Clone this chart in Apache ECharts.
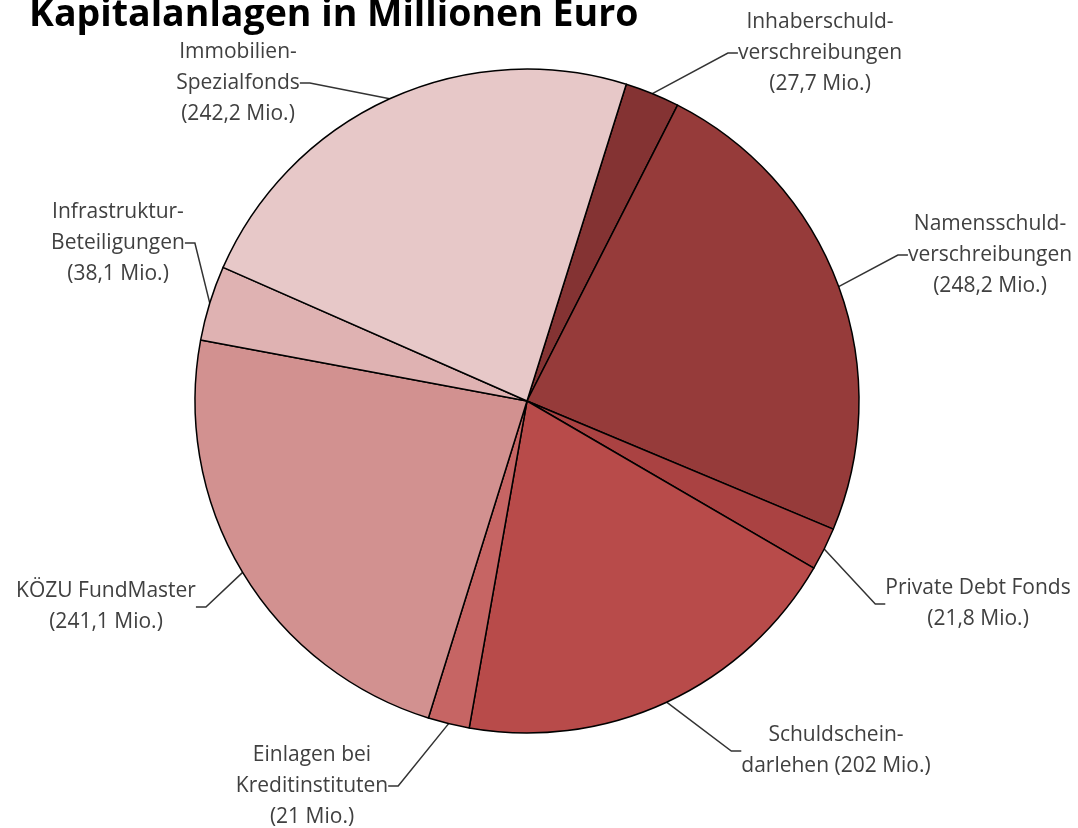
<!DOCTYPE html>
<html>
<head>
<meta charset="utf-8">
<script src="https://cdn.jsdelivr.net/npm/echarts@6/dist/echarts.min.js"></script>
<style>
    html, body { margin: 0; padding: 0; background: #fff; }
    #kapitalChart { width: 1078px; height: 828px; }
</style>
</head>
<body>
<div id="kapitalChart"></div>
<script>
// Daten (Mio. Euro), im Uhrzeigersinn ab Inhaberschuldverschreibungen
var categories = [
    'Inhaberschuld-\nverschreibungen',
    'Namensschuld-\nverschreibungen',
    'Private Debt Fonds',
    'Schuldschein-\ndarlehen',
    'Einlagen bei\nKreditinstituten',
    'KÖZU FundMaster',
    'Infrastruktur-\nBeteiligungen',
    'Immobilien-\nSpezialfonds'
];
var values = [27.7, 248.2, 21.8, 202, 21, 241.1, 38.1, 242.2];
var colors = ['#843333', '#963b3a', '#aa4242', '#b84b4a', '#c66564', '#d29190', '#dfb2b2', '#e7c8c8'];
// Trenner zwischen Name und Wert
var joiners = ['\n', '\n', '\n', ' ', '\n', '\n', '\n', '\n'];
// Label-Mittelpunkte (Pixel)
var labelPos = [
    [820, 53], [990, 255], [978, 604], [836, 751],
    [312, 786], [106, 607], [118, 243], [238, 83]
];

var myChart = echarts.init(document.getElementById('kapitalChart'));

var seriesData = categories.map(function (name, i) {
    return { name: name, value: values[i], itemStyle: { color: colors[i] } };
});

var options = {
    backgroundColor: '#fff',
    title: {
        text: 'Kapitalanlagen in Millionen Euro',
        left: 24,
        top: -9,
        textStyle: {
            fontFamily: 'Open Sans',
            fontWeight: 'bold',
            fontSize: 37.5,
            color: '#000'
        }
    },
    series: [
        {
            type: 'pie',
            center: [527, 401],
            radius: 332,
            startAngle: 72.6,
            clockwise: true,
            avoidLabelOverlap: false,
            data: seriesData,
            itemStyle: {
                borderColor: '#000',
                borderWidth: 1.5
            },
            label: {
                show: true,
                position: 'outside',
                fontFamily: 'Open Sans',
                fontSize: 21,
                lineHeight: 31,
                color: '#404040',
                align: 'center',
                formatter: function (p) {
                    var v = String(p.value).replace('.', ',');
                    return p.name + joiners[p.dataIndex] + '(' + v + ' Mio.)';
                }
            },
            labelLine: {
                show: true,
                length: 12,
                length2: 10,
                lineStyle: { color: '#333', width: 1.5 }
            },
            labelLayout: function (params) {
                var pos = labelPos[params.dataIndex];
                return {
                    x: pos[0],
                    y: pos[1],
                    align: 'center',
                    verticalAlign: 'middle'
                };
            },
            emphasis: { disabled: true }
        }
    ]
};

myChart.setOption(options);
</script>
</body>
</html>
